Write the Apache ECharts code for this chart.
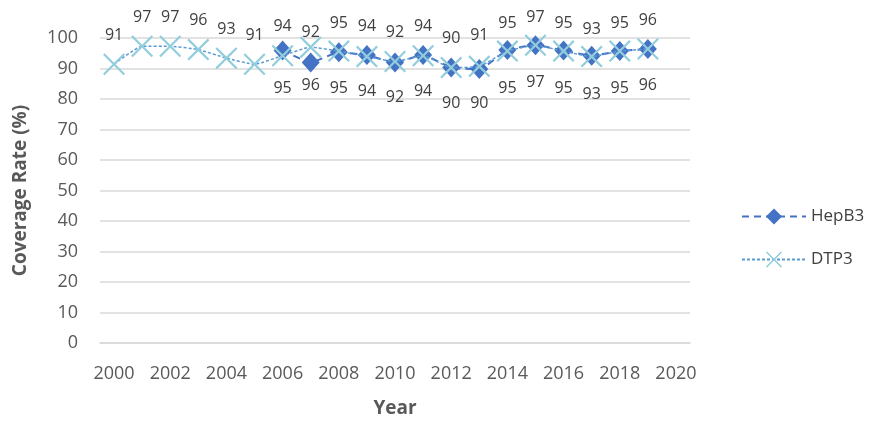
<!DOCTYPE html>
<html>
<head>
<meta charset="utf-8">
<script src="https://cdn.jsdelivr.net/npm/echarts@6/dist/echarts.min.js"></script>
<style>
  html, body { margin: 0; padding: 0; background: #fff; }
  #main { width: 879px; height: 424px; }
</style>
</head>
<body>
<div id="main"></div>
<script>
// years on the x axis (2020 has no data, just an empty slot)
var years = ["2000", "2001", "2002", "2003", "2004", "2005", "2006", "2007", "2008", "2009",
  "2010", "2011", "2012", "2013", "2014", "2015", "2016", "2017", "2018", "2019", "2020"];

// marker positions
var hepB3 = [null, null, null, null, null, null, 95.9, 92, 95.3, 94.4,
  92, 94.4, 90.3, 89.8, 96.1, 97.6, 95.9, 94.2, 95.7, 96.4];
var dtp3 = [91.4, 97.3, 97.3, 96.2, 93.4, 91.4, 94.2, 97, 95.7, 93.9,
  92.3, 94.2, 90.3, 90.7, 95.7, 97.6, 95.7, 93.9, 95.7, 96.4];

// numbers printed as data labels
var dtp3Labels = [91, 97, 97, 96, 93, 91, 94, 92, 95, 94, 92, 94, 90, 91, 95, 97, 95, 93, 95, 96];
var hepB3Labels = [null, null, null, null, null, null, 95, 96, 95, 94, 92, 94, 90, 90, 95, 97, 95, 93, 95, 96];

var yTicks = { min: 0, max: 100, interval: 10 };

var font = "Open Sans";
var crossPath = "path://M0,0.7 L0.7,0 L5,4.3 L9.3,0 L10,0.7 L5.7,5 L10,9.3 L9.3,10 L5,5.7 L0.7,10 L0,9.3 L4.3,5 Z";

var myChart = echarts.init(document.getElementById("main"));

// invisible series that only carries the printed numbers
function labelSeries(name, data, pos, dist) {
  return {
    name: name,
    type: "line",
    data: data,
    symbol: "circle",
    symbolSize: 2,
    showAllSymbol: true,
    silent: true,
    itemStyle: { color: "rgba(0,0,0,0)" },
    lineStyle: { width: 0, color: "rgba(0,0,0,0)" },
    label: {
      show: true,
      position: pos,
      distance: dist,
      fontSize: 16,
      color: "#404040",
      opacity: 1
    },
    labelLayout: { hideOverlap: false },
    z: 4
  };
}

var option = {
  animation: false,
  textStyle: { fontFamily: font },
  grid: { left: 100, right: 189, top: 38, bottom: 81 },
  legend: {
    data: ["HepB3", "DTP3"],
    orient: "vertical",
    left: 736,
    top: 203,
    itemGap: 26,
    itemWidth: 64,
    itemHeight: 20,
    textStyle: { fontSize: 17, color: "#404040", fontFamily: font }
  },
  xAxis: {
    type: "category",
    data: years,
    boundaryGap: true,
    name: "Year",
    nameLocation: "middle",
    nameGap: 56,
    nameTextStyle: { fontSize: 19, fontWeight: "bold", color: "#595959" },
    axisLine: { show: true, lineStyle: { color: "#D9D9D9", width: 1.5 } },
    axisTick: { show: false },
    axisLabel: { interval: 1, fontSize: 18, color: "#595959", margin: 22 }
  },
  yAxis: {
    type: "value",
    min: yTicks.min,
    max: yTicks.max,
    interval: yTicks.interval,
    name: "Coverage Rate (%)",
    nameLocation: "middle",
    nameGap: 70,
    nameTextStyle: { fontSize: 19, fontWeight: "bold", color: "#595959" },
    axisLine: { show: false },
    axisTick: { show: false },
    axisLabel: { fontSize: 18, color: "#595959", margin: 22 },
    splitLine: { lineStyle: { color: "#D9D9D9", width: 1.5 } }
  },
  series: [
    {
      name: "HepB3",
      type: "line",
      data: hepB3,
      smooth: 0.15,
      symbol: "diamond",
      symbolSize: [18, 20],
      showAllSymbol: true,
      itemStyle: { color: "#4472C4" },
      lineStyle: { color: "#4472C4", width: 2, type: [7, 5] },
      z: 2
    },
    {
      name: "DTP3",
      type: "line",
      data: dtp3,
      smooth: 0.15,
      symbol: crossPath,
      symbolSize: 22,
      showAllSymbol: true,
      itemStyle: { color: "#92CDDC" },
      lineStyle: { color: "#5B9BD5", width: 1.5, type: [3, 2] },
      z: 3
    },
    labelSeries("dtp3-labels", dtp3Labels, "top", 21),
    labelSeries("hepb3-labels", hepB3Labels, "bottom", 26)
  ]
};

myChart.setOption(option);
window.addEventListener("resize", function() {
  myChart.resize();
});
</script>
</body>
</html>
